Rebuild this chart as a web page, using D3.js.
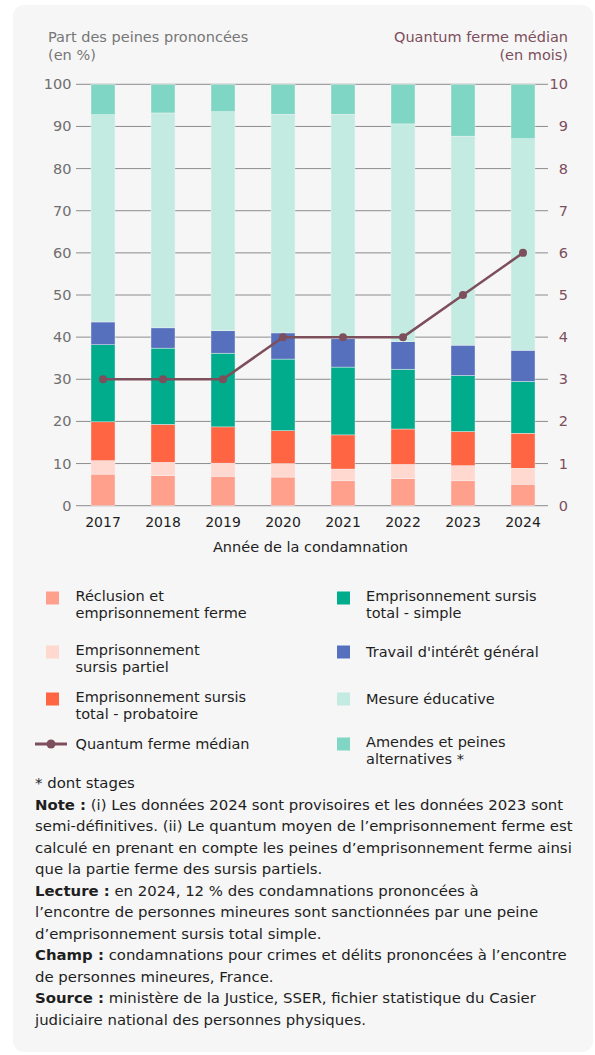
<!DOCTYPE html>
<html>
<head>
<meta charset="utf-8">
<script src="https://cdn.jsdelivr.net/npm/d3@7"></script>
<style>
  body { margin: 0; background: #fff; }
  svg text { font-family: "DejaVu Sans", "Open Sans", sans-serif; }
</style>
</head>
<body>
<svg id="chart" width="595" height="1055"></svg>
<script>
// Data
const years = ["2017", "2018", "2019", "2020", "2021", "2022", "2023", "2024"];

const seriesKeys = ["reclusion", "partiel", "probatoire", "simple", "tig", "educative", "amendes"];
const seriesLabels = [
    ["Réclusion et", "emprisonnement ferme"],
    ["Emprisonnement", "sursis partiel"],
    ["Emprisonnement sursis", "total - probatoire"],
    ["Emprisonnement sursis", "total - simple"],
    ["Travail d'intérêt général"],
    ["Mesure éducative"],
    ["Amendes et peines", "alternatives *"]
];

// share of sentences (%), one value per year
const reclusion  = [7.5, 7.1, 7.0, 6.8, 5.9, 6.4, 5.9, 5.1];
const partiel    = [3.2, 3.2, 3.1, 3.2, 2.8, 3.4, 3.6, 3.8];
const probatoire = [9.2, 9.0, 8.6, 7.8, 8.1, 8.4, 8.1, 8.3];
const simple     = [18.3, 18.1, 17.5, 17.0, 16.1, 14.2, 13.3, 12.3];
const tig        = [5.4, 4.8, 5.3, 6.2, 6.7, 6.5, 7.2, 7.4];
const educative  = [49.2, 51.0, 52.0, 51.9, 53.3, 51.7, 49.6, 50.2];
const amendes    = [7.2, 6.8, 6.5, 7.1, 7.1, 9.4, 12.3, 12.9];

// median firm quantum (months)
const quantum = [3, 3, 3, 4, 4, 4, 5, 6];

const leftTicks = [0, 10, 20, 30, 40, 50, 60, 70, 80, 90, 100];
const rightTicks = [0, 1, 2, 3, 4, 5, 6, 7, 8, 9, 10];

const colors = ["#ffa08c", "#ffd9d0", "#ff6543", "#00ac8c", "#5770be", "#c3ebe1", "#7fd6c4"];
const lineColor = "#7d4e5b";

const table = years.map((y, i) => ({
    year: y,
    reclusion: reclusion[i],
    partiel: partiel[i],
    probatoire: probatoire[i],
    simple: simple[i],
    tig: tig[i],
    educative: educative[i],
    amendes: amendes[i]
}));

const svg = d3.select("#chart");

// panel background
svg.append("rect")
    .attr("x", 13).attr("y", 5)
    .attr("width", 580).attr("height", 1047)
    .attr("rx", 11)
    .attr("fill", "#f6f6f6");

const gridLeft = 76, gridRight = 548;

const xScale = d3.scaleBand()
    .domain(years)
    .range([73, 553])
    .paddingInner(0.6)
    .paddingOuter(0.3);

const yScale = d3.scaleLinear().domain([0, 100]).range([505.7, 84.3]);
const yRight = d3.scaleLinear().domain([0, 10]).range([505.7, 84.3]);

// gridlines
svg.append("g")
    .selectAll("line")
    .data(leftTicks)
    .join("line")
    .attr("x1", gridLeft).attr("x2", gridRight)
    .attr("y1", d => yScale(d)).attr("y2", d => yScale(d))
    .attr("stroke", "#8c8c8c")
    .attr("stroke-width", 1);

// left tick labels
svg.append("g")
    .selectAll("text")
    .data(leftTicks)
    .join("text")
    .attr("x", 71.5)
    .attr("y", d => yScale(d) + 5)
    .attr("text-anchor", "end")
    .attr("font-size", 14.5)
    .attr("fill", "#6f6f6f")
    .text(d => d);

// right tick labels
svg.append("g")
    .selectAll("text")
    .data(rightTicks)
    .join("text")
    .attr("x", 568)
    .attr("y", d => yRight(d) + 5)
    .attr("text-anchor", "end")
    .attr("font-size", 14.5)
    .attr("fill", lineColor)
    .text(d => d);

// axis titles
svg.append("text")
    .attr("x", 48).attr("y", 41.5)
    .attr("font-size", 14.5)
    .attr("fill", "#777")
    .text("Part des peines prononcées");
svg.append("text")
    .attr("x", 48).attr("y", 60)
    .attr("font-size", 14.5)
    .attr("fill", "#777")
    .text("(en %)");

svg.append("text")
    .attr("x", 568).attr("y", 41.5)
    .attr("text-anchor", "end")
    .attr("font-size", 14.5)
    .attr("fill", lineColor)
    .text("Quantum ferme médian");
svg.append("text")
    .attr("x", 568).attr("y", 60)
    .attr("text-anchor", "end")
    .attr("font-size", 14.5)
    .attr("fill", lineColor)
    .text("(en mois)");

// stacked bars
const stack = d3.stack().keys(seriesKeys);
const stacked = stack(table);

svg.append("g")
    .selectAll("g")
    .data(stacked)
    .join("g")
    .attr("fill", (d, i) => colors[i])
    .selectAll("rect")
    .data(d => d)
    .join("rect")
    .attr("x", d => xScale(d.data.year))
    .attr("width", xScale.bandwidth())
    .attr("y", d => yScale(d[1]))
    .attr("height", d => yScale(d[0]) - yScale(d[1]))
    .attr("stroke", "#f6f6f6")
    .attr("stroke-width", 0.4);

// year labels
svg.append("g")
    .selectAll("text")
    .data(years)
    .join("text")
    .attr("x", d => xScale(d) + xScale.bandwidth() / 2)
    .attr("y", 527)
    .attr("text-anchor", "middle")
    .attr("font-size", 14)
    .attr("fill", "#1e1e1e")
    .text(d => d);

svg.append("text")
    .attr("x", 310.5).attr("y", 552)
    .attr("text-anchor", "middle")
    .attr("font-size", 14.5)
    .attr("fill", "#1e1e1e")
    .text("Année de la condamnation");

// quantum line
const line = d3.line()
    .x((d, i) => xScale(years[i]) + xScale.bandwidth() / 2)
    .y(d => yRight(d));

svg.append("path")
    .datum(quantum)
    .attr("d", line)
    .attr("fill", "none")
    .attr("stroke", lineColor)
    .attr("stroke-width", 2.5);

svg.append("g")
    .selectAll("circle")
    .data(quantum)
    .join("circle")
    .attr("cx", (d, i) => xScale(years[i]) + xScale.bandwidth() / 2)
    .attr("cy", d => yRight(d))
    .attr("r", 4)
    .attr("fill", lineColor);

// legend
const legendRows = [598, 652, 699, 744];
const legendItems = [
    { i: 0, col: 0, row: 0 },
    { i: 1, col: 0, row: 1 },
    { i: 2, col: 0, row: 2 },
    { i: 3, col: 1, row: 0 },
    { i: 4, col: 1, row: 1 },
    { i: 5, col: 1, row: 2 },
    { i: 6, col: 1, row: 3 }
];
const colSwatchX = [46, 337];
const colTextX = [75.5, 366];

const legend = svg.append("g");
legendItems.forEach(item => {
    const cy = legendRows[item.row];
    legend.append("rect")
        .attr("x", colSwatchX[item.col])
        .attr("y", cy - 6.5)
        .attr("width", 13).attr("height", 13)
        .attr("fill", colors[item.i]);
    const lines = seriesLabels[item.i];
    const top = lines.length === 1 ? cy + 5 : cy + 2.5;
    lines.forEach((l, k) => {
        legend.append("text")
            .attr("x", colTextX[item.col])
            .attr("y", top + k * 17)
            .attr("font-size", 14.5)
            .attr("fill", "#1e1e1e")
            .text(l);
    });
});

// line legend
legend.append("line")
    .attr("x1", 35).attr("x2", 67)
    .attr("y1", 744).attr("y2", 744)
    .attr("stroke", lineColor)
    .attr("stroke-width", 3);
legend.append("circle")
    .attr("cx", 51).attr("cy", 744).attr("r", 4.5)
    .attr("fill", lineColor);
legend.append("text")
    .attr("x", 75.5).attr("y", 749)
    .attr("font-size", 14.5)
    .attr("fill", "#1e1e1e")
    .text("Quantum ferme médian");

// notes
const notes = [
    ["", "* dont stages"],
    ["Note :", " (i) Les données 2024 sont provisoires et les données 2023 sont"],
    ["", "semi-définitives. (ii) Le quantum moyen de l’emprisonnement ferme est"],
    ["", "calculé en prenant en compte les peines d’emprisonnement ferme ainsi"],
    ["", "que la partie ferme des sursis partiels."],
    ["Lecture :", " en 2024, 12 % des condamnations prononcées à"],
    ["", "l’encontre de personnes mineures sont sanctionnées par une peine"],
    ["", "d’emprisonnement sursis total simple."],
    ["Champ :", " condamnations pour crimes et délits prononcées à l’encontre"],
    ["", "de personnes mineures, France."],
    ["Source :", " ministère de la Justice, SSER, fichier statistique du Casier"],
    ["", "judiciaire national des personnes physiques."]
];

const notesG = svg.append("g");
notes.forEach((n, k) => {
    const t = notesG.append("text")
        .attr("x", 35)
        .attr("y", 788 + k * 21.5)
        .attr("font-size", 14.9)
        .attr("fill", "#1e1e1e");
    if (n[0]) t.append("tspan").attr("font-weight", "bold").text(n[0]);
    t.append("tspan").text(n[1]);
});
</script>
</body>
</html>
